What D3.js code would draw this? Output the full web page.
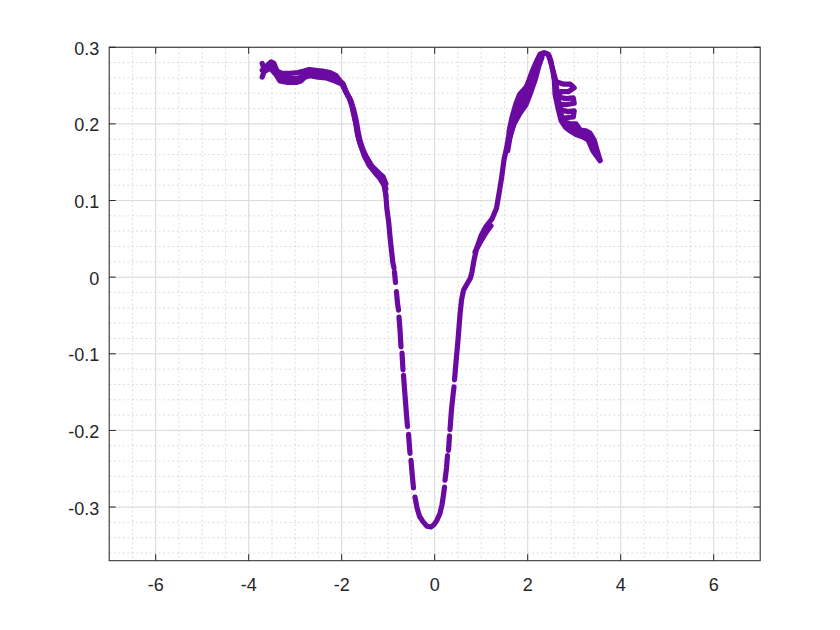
<!DOCTYPE html>
<html><head><meta charset="utf-8">
<script src="https://cdn.jsdelivr.net/npm/d3@7"></script>
<style>body{margin:0;background:#fff}</style>
</head><body>
<svg id="chart" width="840" height="630"></svg>
<script>
// ---------- data ----------
const xTicks = [-6, -4, -2, 0, 2, 4, 6];
const xTickLabels = ["-6", "-4", "-2", "0", "2", "4", "6"];
const yTicks = [-0.3, -0.2, -0.1, 0, 0.1, 0.2, 0.3];
const yTickLabels = ["-0.3", "-0.2", "-0.1", "0", "0.1", "0.2", "0.3"];

// upper edge of the left plateau and first descent
const plateauTop = [
  [-3.71,0.279],[-3.67,0.272],[-3.61,0.276],[-3.52,0.281],[-3.46,0.279],[-3.39,0.269],
  [-3.28,0.266],[-3.11,0.266],[-2.94,0.267],[-2.81,0.269],[-2.70,0.271],[-2.57,0.270],
  [-2.42,0.269],[-2.25,0.267],[-2.12,0.263],[-2.02,0.255],[-1.93,0.244],[-1.84,0.234],
  [-1.78,0.223],[-1.74,0.212],[-1.69,0.199],[-1.65,0.184],[-1.58,0.170],[-1.52,0.159],
  [-1.41,0.146],[-1.28,0.136],[-1.18,0.129],[-1.09,0.120],[-1.05,0.107]
];
// middle of the same band
const plateauMid = [
  [-3.71,0.270],[-3.62,0.272],[-3.52,0.276],[-3.42,0.267],[-3.33,0.260],[-3.16,0.259],
  [-2.98,0.259],[-2.88,0.261],[-2.79,0.265],[-2.68,0.267],[-2.51,0.265],[-2.34,0.264],
  [-2.19,0.262],[-2.08,0.258],[-1.98,0.253],[-1.91,0.242],[-1.82,0.232],[-1.76,0.220],
  [-1.71,0.205],[-1.67,0.190],[-1.61,0.175],[-1.53,0.163],[-1.44,0.151],[-1.32,0.140],
  [-1.20,0.133],[-1.10,0.126],[-1.05,0.115]
];
// lower edge of the same band
const plateauLow = [
  [-3.71,0.261],[-3.67,0.268],[-3.54,0.273],[-3.41,0.264],[-3.33,0.256],[-3.16,0.254],
  [-2.98,0.254],[-2.88,0.256],[-2.79,0.261],[-2.68,0.263],[-2.51,0.261],[-2.34,0.260],
  [-2.19,0.257],[-2.08,0.254],[-1.97,0.252],[-1.89,0.240],[-1.80,0.230],[-1.74,0.218],
  [-1.69,0.205],[-1.65,0.191],[-1.61,0.179],[-1.54,0.166],[-1.46,0.156],[-1.35,0.145],
  [-1.22,0.137],[-1.11,0.131],[-1.05,0.122]
];
// valley and right rise (null = gap between recorded samples)
const valleyTrace = [
  [-1.05,0.107],[-1.03,0.090],[-0.99,0.072],[-0.96,0.052],[-0.93,0.035],[-0.90,0.019],[-0.875,0.012],
  null,
  [-0.865,0.007],[-0.854,0.000],[-0.843,-0.007],
  null,
  [-0.822,-0.019],[-0.800,-0.034],[-0.778,-0.043],
  null,
  [-0.768,-0.052],[-0.746,-0.069],[-0.725,-0.091],
  null,
  [-0.703,-0.099],[-0.682,-0.121],
  null,
  [-0.671,-0.128],[-0.639,-0.154],[-0.606,-0.180],[-0.585,-0.195],
  null,
  [-0.563,-0.205],[-0.531,-0.230],
  null,
  [-0.510,-0.239],[-0.477,-0.262],[-0.456,-0.275],
  null,
  [-0.424,-0.287],[-0.381,-0.301],[-0.327,-0.312],[-0.252,-0.319],[-0.166,-0.325],[-0.080,-0.326],
  [-0.015,-0.323],[0.049,-0.317],[0.114,-0.308],[0.157,-0.297],[0.189,-0.284],[0.211,-0.274],
  null,
  [0.222,-0.265],[0.254,-0.249],[0.275,-0.233],
  null,
  [0.297,-0.226],[0.318,-0.207],
  null,
  [0.329,-0.199],[0.361,-0.173],[0.394,-0.154],[0.415,-0.143],
  null,
  [0.426,-0.134],[0.458,-0.111],[0.501,-0.082],[0.544,-0.049],[0.576,-0.030],[0.619,-0.017],
  [0.695,-0.009],[0.770,-0.001],[0.802,0.007],[0.845,0.022],[0.899,0.037],[0.996,0.054],
  [1.103,0.066],[1.232,0.076],[1.329,0.090],[1.383,0.109],[1.437,0.129],[1.490,0.153],
  [1.555,0.171],[1.619,0.195],[1.727,0.216],[1.856,0.231],[1.985,0.250],[2.092,0.268],
  [2.200,0.283],[2.265,0.291],[2.351,0.293],[2.437,0.291],[2.501,0.280],[2.566,0.265],
  [2.609,0.255]
];
// band around the right rise
const riseOuter = [
  [0.867,0.033],[0.974,0.045],[1.103,0.058],[1.211,0.067],
  null,
  [1.60,0.179],[1.705,0.200],[1.834,0.214],[1.963,0.225],[2.071,0.242],[2.157,0.257],
  [2.243,0.276],[2.308,0.287]
];
const riseMid = [
  [1.58,0.175],[1.68,0.205],[1.79,0.222],[1.90,0.232],[2.01,0.247],[2.11,0.262],
  [2.21,0.280],[2.28,0.289]
];
const riseFill = [
  [1.57,0.165],[1.64,0.190],[1.76,0.210],[1.88,0.224],[1.98,0.238],[2.08,0.252],
  [2.18,0.270],[2.26,0.285]
];
const riseInner = [
  [1.60,0.190],[1.66,0.208],[1.75,0.227],[1.83,0.239],[1.94,0.246],[2.05,0.255]
];
const peakTop = [
  [2.27,0.289],[2.33,0.292],[2.40,0.292],[2.46,0.289],[2.50,0.282]
];
// oscillating loops after the right peak
const peakLoops = [
  [2.609,0.255],[2.76,0.252],[2.91,0.252],[3.00,0.247],[2.87,0.242],[2.70,0.242],
  [2.67,0.235],[2.82,0.233],[2.98,0.234],[3.00,0.227],[2.82,0.225],[2.70,0.226],
  [2.72,0.218],[2.87,0.216],[3.00,0.217],[2.98,0.209],[2.82,0.208],[2.76,0.204],
  [2.91,0.200],[3.04,0.200],[3.13,0.192],[3.25,0.191],[3.34,0.188],[3.43,0.179],
  [3.49,0.166],[3.555,0.153]
];
const peakInner = [
  [2.50,0.280],[2.57,0.260],[2.59,0.238],[2.65,0.221],[2.72,0.204],[2.82,0.195],
  [2.91,0.191],[3.04,0.186],[3.19,0.183],[3.30,0.179],[3.40,0.165],[3.555,0.152]
];
const peakFill = [
  [2.56,0.262],[2.62,0.248],[2.64,0.236],[2.68,0.225],[2.72,0.212],[2.80,0.202],
  [2.95,0.195],[3.10,0.190],[3.22,0.186],[3.34,0.184],[3.42,0.174],[3.50,0.160]
];
const traces = [plateauTop, plateauMid, plateauLow, valleyTrace, riseOuter, riseMid, riseFill,
  riseInner, peakTop, peakLoops, peakInner, peakFill];

// ---------- layout ----------
const plotLeft = 109.2, plotTop = 47.25, pw = 651, ph = 513.45;
const xDomain = [-7, 7], yDomain = [-0.37, 0.3];
const markColor = "#6a0aa0";
const axisColor = "#262626";

const svg = d3.select("#chart");
const x = d3.scaleLinear().domain(xDomain).range([plotLeft, plotLeft + pw]);
const y = d3.scaleLinear().domain(yDomain).range([plotTop + ph, plotTop]);

// grid
const xMinor = d3.range(-7, 7.001, 0.5);
const yMinor = d3.range(-0.36, 0.3001, 0.02);
const g = svg.append("g");
g.selectAll(".xm").data(xMinor).join("line")
  .attr("x1", d => x(d)).attr("x2", d => x(d)).attr("y1", plotTop).attr("y2", plotTop + ph)
  .attr("stroke", "#d4d4d4").attr("stroke-width", 0.8).attr("stroke-dasharray", "2,2.5");
g.selectAll(".ym").data(yMinor).join("line")
  .attr("y1", d => y(d)).attr("y2", d => y(d)).attr("x1", plotLeft).attr("x2", plotLeft + pw)
  .attr("stroke", "#d4d4d4").attr("stroke-width", 0.8).attr("stroke-dasharray", "2,2.5");
g.selectAll(".xM").data(xTicks).join("line")
  .attr("x1", d => x(d)).attr("x2", d => x(d)).attr("y1", plotTop).attr("y2", plotTop + ph)
  .attr("stroke", "#dcdcdc").attr("stroke-width", 1);
g.selectAll(".yM").data(yTicks).join("line")
  .attr("y1", d => y(d)).attr("y2", d => y(d)).attr("x1", plotLeft).attr("x2", plotLeft + pw)
  .attr("stroke", "#dcdcdc").attr("stroke-width", 1);

// data
const line = d3.line().defined(d => d !== null).x(d => x(d[0])).y(d => y(d[1]));
svg.append("g").selectAll("path").data(traces).join("path")
  .attr("d", line).attr("fill", "none").attr("stroke", markColor)
  .attr("stroke-width", 5.2).attr("stroke-linecap", "round").attr("stroke-linejoin", "round");

// box
svg.append("rect").attr("x", plotLeft).attr("y", plotTop).attr("width", pw).attr("height", ph)
  .attr("fill", "none").attr("stroke", axisColor).attr("stroke-width", 1);

// ticks (inward on all four sides)
const tl = 6.5;
const tk = svg.append("g").attr("stroke", axisColor).attr("stroke-width", 1);
xTicks.forEach(v => {
  tk.append("line").attr("x1", x(v)).attr("x2", x(v)).attr("y1", plotTop + ph).attr("y2", plotTop + ph - tl);
  tk.append("line").attr("x1", x(v)).attr("x2", x(v)).attr("y1", plotTop).attr("y2", plotTop + tl);
});
yTicks.forEach(v => {
  tk.append("line").attr("y1", y(v)).attr("y2", y(v)).attr("x1", plotLeft).attr("x2", plotLeft + tl);
  tk.append("line").attr("y1", y(v)).attr("y2", y(v)).attr("x1", plotLeft + pw).attr("x2", plotLeft + pw - tl);
});

// labels
const font = "'Liberation Sans', Arial, Helvetica, sans-serif";
svg.append("g").selectAll("text").data(xTicks).join("text")
  .attr("x", d => x(d)).attr("y", plotTop + ph + 30.5)
  .attr("text-anchor", "middle").attr("font-family", font).attr("font-size", 18)
  .attr("fill", axisColor).text((d, i) => xTickLabels[i]);
svg.append("g").selectAll("text").data(yTicks).join("text")
  .attr("x", plotLeft - 10).attr("y", d => y(d) + 7.5)
  .attr("text-anchor", "end").attr("font-family", font).attr("font-size", 18)
  .attr("fill", axisColor).text((d, i) => yTickLabels[i]);
</script>
</body></html>
